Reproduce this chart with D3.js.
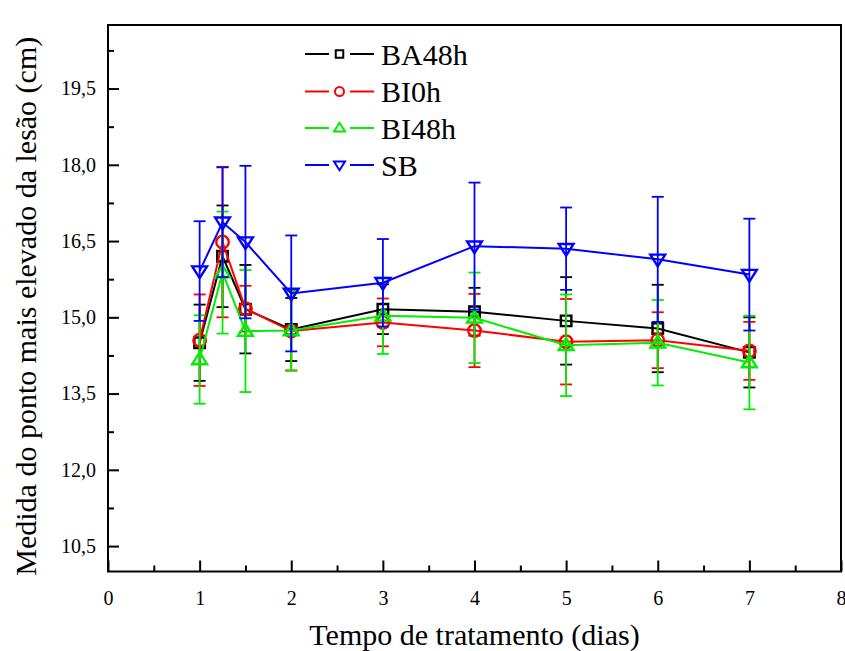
<!DOCTYPE html>
<html><head><meta charset="utf-8">
<script src="https://cdn.jsdelivr.net/npm/d3@7"></script>
<style>
body{margin:0;background:#fff;}
</style></head>
<body>
<svg id="chart" width="845" height="651"></svg>
<script>
// ---- data ----
const days = [1, 1.25, 1.5, 2, 3, 4, 5, 6, 7];
const seriesNames = ["BA48h", "BI0h", "BI48h", "SB"];
const BA48h = [14.50, 16.20, 15.16, 14.76, 15.16, 15.11, 14.93, 14.78, 14.31];
const BA48hErr = [0.75, 1.00, 0.87, 0.62, 0.49, 0.47, 0.86, 0.86, 0.69];
const BI0h = [14.55, 16.48, 15.17, 14.73, 14.90, 14.74, 14.52, 14.55, 14.34];
const BI0hErr = [0.90, 1.48, 0.45, 0.78, 0.47, 0.72, 0.84, 0.55, 0.57];
const BI48h = [14.17, 15.88, 14.73, 14.74, 15.03, 14.99, 14.45, 14.50, 14.11];
const BI48hErr = [0.87, 1.20, 1.20, 0.78, 0.75, 0.89, 1.00, 0.84, 0.92];
const SB = [15.91, 16.87, 16.48, 15.47, 15.68, 16.40, 16.35, 16.14, 15.84];
const SBErr = [0.98, 1.08, 1.50, 1.14, 0.86, 1.25, 0.81, 1.23, 1.10];
const xTicks = [0, 1, 2, 3, 4, 5, 6, 7, 8];
const xMinorTicks = [0.5, 1.5, 2.5, 3.5, 4.5, 5.5, 6.5, 7.5];
const yTicks = [10.5, 12.0, 13.5, 15.0, 16.5, 18.0, 19.5];
const yMinorTicks = [11.25, 12.75, 14.25, 15.75, 17.25, 18.75, 20.25];
const xTitle = "Tempo de tratamento (dias)";
const yTitle = "Medida do ponto mais elevado da lesão (cm)";

const series = [
  {name: seriesNames[0], values: BA48h, err: BA48hErr, color: "#000000", shape: "square"},
  {name: seriesNames[1], values: BI0h, err: BI0hErr, color: "#ff0000", shape: "circle"},
  {name: seriesNames[2], values: BI48h, err: BI48hErr, color: "#00ee00", shape: "triangle"},
  {name: seriesNames[3], values: SB, err: SBErr, color: "#0000ff", shape: "triangleDown"}
];

const FONT = "'Liberation Serif', 'Times New Roman', serif";

// ---- layout ----
const L = 108, R = 841, T = 25, B = 571.5;
const svg = d3.select("#chart");
const x = d3.scaleLinear().domain([0, 8]).range([L, R]);
const y = d3.scaleLinear().domain([10, 20.75]).range([B, T]);

function fmt(v){ return d3.format(".1f")(v).replace(".", ","); }

// axes
const gx = svg.append("g").attr("transform", `translate(0,${B})`)
  .call(d3.axisBottom(x).tickValues(xTicks).tickFormat(d3.format("d")).tickSize(-11).tickSizeOuter(0));
gx.selectAll("text").attr("y", 14).attr("dy", "0.95em").style("font-size", "20px");
svg.append("g").attr("transform", `translate(0,${B})`)
  .call(d3.axisBottom(x).tickValues(xMinorTicks).tickFormat("").tickSize(-6).tickSizeOuter(0));

const gy = svg.append("g").attr("transform", `translate(${L},0)`)
  .call(d3.axisLeft(y).tickValues(yTicks).tickFormat(fmt).tickSize(-11).tickSizeOuter(0).tickPadding(12));
gy.selectAll("text").style("font-size", "20px");
svg.append("g").attr("transform", `translate(${L},0)`)
  .call(d3.axisLeft(y).tickValues(yMinorTicks).tickFormat("").tickSize(-6).tickSizeOuter(0));

svg.selectAll(".domain").remove();
svg.selectAll(".tick line").attr("stroke", "#000").attr("stroke-width", 2);

// frame
svg.append("rect").attr("x", L).attr("y", T).attr("width", R - L).attr("height", B - T)
  .attr("fill", "none").attr("stroke", "#000").attr("stroke-width", 2);

// titles
svg.append("text").attr("x", (L + R) / 2).attr("y", 645).attr("text-anchor", "middle")
  .style("font-size", "30px").text(xTitle);
svg.append("text").attr("transform", `translate(36,${(T + B) / 2 + 8}) rotate(-90)`)
  .attr("text-anchor", "middle").style("font-size", "30px").text(yTitle);

// marker paths
function markerPath(shape, s) {
  if (shape === "square") return `M${-s/2},${-s/2}h${s}v${s}h${-s}Z`;
  if (shape === "circle") { const r = s/2; return `M${-r},0a${r},${r} 0 1,0 ${2*r},0a${r},${r} 0 1,0 ${-2*r},0Z`; }
  const h = s * 0.87;
  if (shape === "triangle") return `M0,${-h*0.6}L${s/2*1.1},${h*0.4}L${-s/2*1.1},${h*0.4}Z`;
  return `M0,${h*0.6}L${s/2*1.1},${-h*0.4}L${-s/2*1.1},${-h*0.4}Z`;
}
const markerSize = {square: 10.5, circle: 12.5, triangle: 13.5, triangleDown: 13.5};

const plot = svg.append("g");
const line = d3.line().x(d => x(d.x)).y(d => y(d.v));
const capW = 6;

series.forEach(s => {
  const pts = days.map((d, i) => ({x: d, v: s.values[i], e: s.err[i]}));
  const g = plot.append("g");
  const eb = g.selectAll(".eb").data(pts).enter().append("g");
  eb.append("line").attr("x1", d => x(d.x)).attr("x2", d => x(d.x))
    .attr("y1", d => y(d.v + d.e)).attr("y2", d => y(d.v - d.e))
    .attr("stroke", s.color).attr("stroke-width", 1.8);
  eb.append("line").attr("x1", d => x(d.x) - capW).attr("x2", d => x(d.x) + capW)
    .attr("y1", d => y(d.v + d.e)).attr("y2", d => y(d.v + d.e))
    .attr("stroke", s.color).attr("stroke-width", 1.8);
  eb.append("line").attr("x1", d => x(d.x) - capW).attr("x2", d => x(d.x) + capW)
    .attr("y1", d => y(d.v - d.e)).attr("y2", d => y(d.v - d.e))
    .attr("stroke", s.color).attr("stroke-width", 1.8);
  g.append("path").datum(pts).attr("d", line).attr("fill", "none")
    .attr("stroke", s.color).attr("stroke-width", 2);
  g.selectAll(".m").data(pts).enter().append("path")
    .attr("transform", d => `translate(${x(d.x)},${y(d.v)})`)
    .attr("d", markerPath(s.shape, markerSize[s.shape]))
    .attr("fill", "none").attr("stroke", s.color).attr("stroke-width", 2.4);
});

// legend
const lg = svg.append("g");
const legY = [54, 91.5, 128, 165];
series.forEach((s, i) => {
  const yy = legY[i];
  lg.append("line").attr("x1", 305).attr("x2", 329).attr("y1", yy).attr("y2", yy).attr("stroke", s.color).attr("stroke-width", 2);
  lg.append("line").attr("x1", 350).attr("x2", 374).attr("y1", yy).attr("y2", yy).attr("stroke", s.color).attr("stroke-width", 2);
  lg.append("path").attr("transform", `translate(339.5,${yy})`)
    .attr("d", markerPath(s.shape, s.shape === "square" ? 7.5 : s.shape === "circle" ? 9 : 10))
    .attr("fill", "none").attr("stroke", s.color).attr("stroke-width", 2);
  lg.append("text").attr("x", 381).attr("y", yy + 10.5).style("font-size", "30px").text(s.name);
});

// serif font on all text
svg.selectAll("text").attr("font-family", FONT).style("font-family", FONT).attr("fill", "#000");
</script>
</body></html>
